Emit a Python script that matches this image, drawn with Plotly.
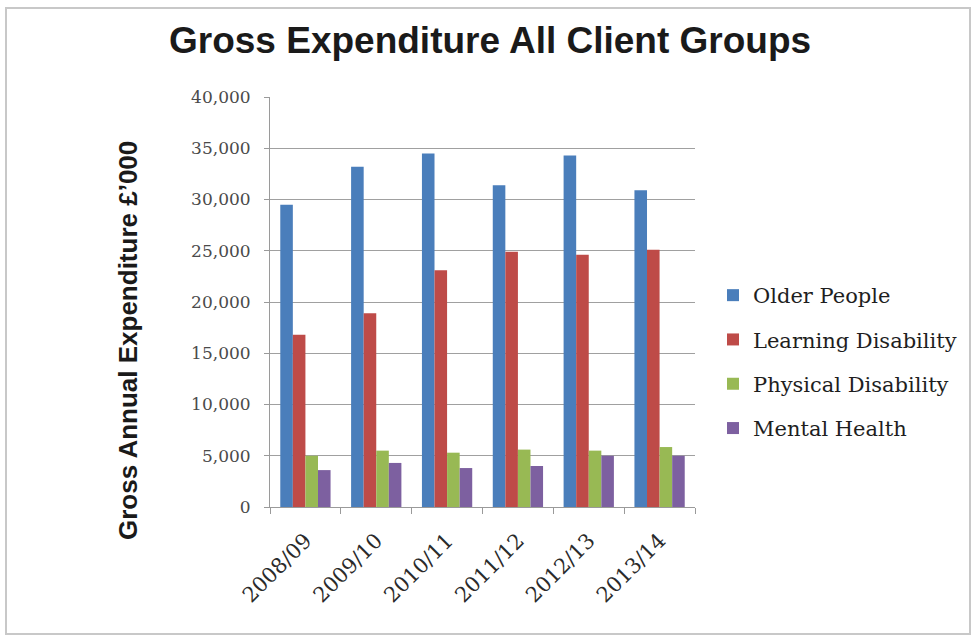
import plotly.graph_objects as go

# Financial years on the category axis
years = ["2008/09", "2009/10", "2010/11", "2011/12", "2012/13", "2013/14"]

# Gross annual expenditure per client group (£'000)
older_people = [29500, 33200, 34500, 31400, 34300, 30900]
learning_disability = [16800, 18900, 23100, 24900, 24600, 25100]
physical_disability = [5000, 5500, 5300, 5600, 5500, 5850]
mental_health = [3600, 4300, 3800, 4000, 5000, 5000]

series_names = ["Older People", "Learning Disability", "Physical Disability", "Mental Health"]
series_values = [older_people, learning_disability, physical_disability, mental_health]
series_colors = ["#4a7ebb", "#be4b48", "#98b954", "#7d60a0"]

y_ticks = [0, 5000, 10000, 15000, 20000, 25000, 30000, 35000, 40000]

W, H = 977, 644
L, R, T, B = 270, 282, 97, 137
PW, PH = W - L - R, H - T - B


def px_x(x):
    return (x - L) / PW


def px_y(y):
    return (H - B - y) / PH


fig = go.Figure()
for name, vals, col in zip(series_names, series_values, series_colors):
    fig.add_trace(go.Bar(x=years, y=vals, name=name, legendgroup=name,
                         marker=dict(color=col, line=dict(width=0))))

serif = "DejaVu Serif"

fig.update_layout(
    width=W, height=H,
    margin=dict(l=L, r=R, t=T, b=B),
    paper_bgcolor="white", plot_bgcolor="white",
    barmode="group", bargap=0.29, bargroupgap=0,
    showlegend=True,
    legend=dict(
        x=px_x(713), xanchor="left",
        y=px_y(362), yanchor="middle",
        font=dict(family=serif, size=21, color="#1e1e1e"),
        itemwidth=30, tracegroupgap=14, bgcolor="rgba(0,0,0,0)",
    ),
    xaxis=dict(
        showline=True, linecolor="#9a9a9a", linewidth=1,
        ticks="outside", tickson="boundaries", ticklen=6, tickcolor="#9a9a9a",
        ticklabelstandoff=12,
        tickangle=-45, tickfont=dict(family=serif, size=21, color="#2a2a2a"),
        showgrid=False,
    ),
    yaxis=dict(
        range=[0, 40000], tickvals=y_ticks, tickformat=",d",
        showline=True, linecolor="#9a9a9a", linewidth=1,
        ticks="outside", ticklen=5, tickcolor="#9a9a9a",
        ticklabelstandoff=10,
        showgrid=True, gridcolor="#a0a0a0", gridwidth=1,
        tickfont=dict(family=serif, size=17, color="#4a4a4a"),
        zeroline=False,
    ),
    annotations=[
        dict(text="<b>Gross Expenditure All Client Groups</b>", xref="paper", yref="paper",
             x=px_x(490), y=px_y(40),
             xanchor="center", yanchor="middle", showarrow=False,
             font=dict(family="Liberation Sans", size=37, color="#1a1a1a")),
        dict(text="<b>Gross Annual Expenditure £’000</b>", xref="paper", yref="paper",
             x=px_x(128), y=px_y(341),
             xanchor="center", yanchor="middle", textangle=-90, showarrow=False,
             font=dict(family="Liberation Sans", size=26, color="#1a1a1a")),
    ],
    shapes=[
        dict(type="rect", xref="paper", yref="paper",
             x0=px_x(6), x1=px_x(970), y0=px_y(634), y1=px_y(8),
             line=dict(color="#c8c8c8", width=2), fillcolor="rgba(0,0,0,0)", layer="below"),
    ],
)

fig.write_html("out.html")
